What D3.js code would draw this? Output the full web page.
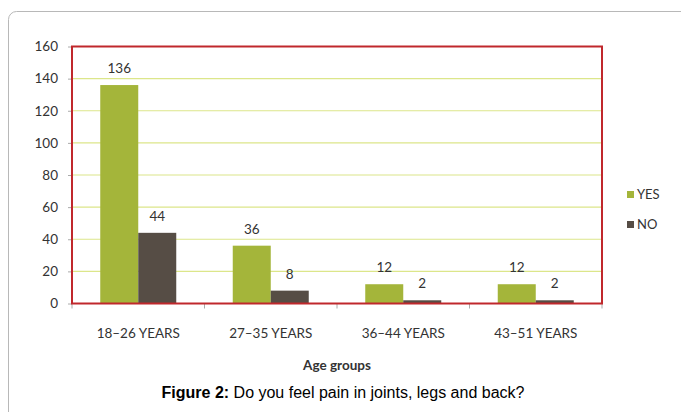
<!DOCTYPE html>
<html>
<head>
  <meta charset="utf-8">
  <title>Figure 2</title>
  <script src="https://d3js.org/d3.v7.min.js"></script>
  <style>
    body { margin: 0; background: #fff; }
    text { font-family: Lato, "Open Sans", sans-serif; fill: #333; }
  </style>
</head>
<body>
  <div id="chart"></div>
  <script>
    // chart data
    var categories = ["18-26 YEARS", "27-35 YEARS", "36-44 YEARS", "43-51 YEARS"];
    var series = ["YES", "NO"];
    var yesValues = [136, 36, 12, 12];
    var noValues = [44, 8, 2, 2];
    var yTicks = [0, 20, 40, 60, 80, 100, 120, 140, 160];
    var colors = ["#a4b53a", "#564d45"];

    var width = 681, height = 412;
    var svg = d3.select("#chart").append("svg")
      .attr("width", width).attr("height", height);

    // outer rounded frame
    svg.append("rect")
      .attr("x", 8.5).attr("y", 11.5)
      .attr("width", 720).attr("height", 430)
      .attr("rx", 8)
      .attr("fill", "none").attr("stroke", "#b8b8b8").attr("stroke-width", 1);

    var plotLeft = 72, plotRight = 602, plotTop = 46.5, plotBottom = 303.5;

    var x = d3.scaleBand().domain(categories).range([plotLeft, plotRight]);
    var xInner = d3.scaleBand().domain(series).range([0, 76]);
    var y = d3.scaleLinear().domain([0, 160]).range([plotBottom, plotTop]);

    // grid lines
    svg.append("g").selectAll("line")
      .data(yTicks.filter(function(d) { return d > 0 && d < 160; }))
      .enter().append("line")
      .attr("x1", plotLeft).attr("x2", plotRight)
      .attr("y1", function(d) { return y(d); })
      .attr("y2", function(d) { return y(d); })
      .attr("stroke", "#dce68a").attr("stroke-width", 1.2);

    // y axis labels + ticks
    var yAxis = d3.axisLeft(y).tickValues(yTicks).tickSize(4).tickPadding(10);
    var gy = svg.append("g").attr("transform", "translate(" + plotLeft + ",0)").call(yAxis);
    gy.select(".domain").remove();
    gy.selectAll("line").attr("stroke", "#aaa");
    gy.selectAll("text").style("font-size", "13.5px").attr("fill", "#333")
      .style("font-family", "Lato, sans-serif");

    // x axis ticks at category boundaries
    var bounds = categories.map(function(c) { return x(c); }).concat([plotRight]);
    svg.append("g").selectAll("line")
      .data(bounds).enter().append("line")
      .attr("x1", function(d) { return d; }).attr("x2", function(d) { return d; })
      .attr("y1", plotBottom).attr("y2", plotBottom + 5)
      .attr("stroke", "#aaa");

    // bars
    var rows = categories.map(function(c, i) {
      return { cat: c, vals: [{ s: "YES", v: yesValues[i] }, { s: "NO", v: noValues[i] }] };
    });

    var groups = svg.append("g").selectAll("g")
      .data(rows).enter().append("g")
      .attr("transform", function(d) {
        return "translate(" + (x(d.cat) + (x.bandwidth() - 76) / 2) + ",0)";
      });

    groups.selectAll("rect")
      .data(function(d) { return d.vals; })
      .enter().append("rect")
      .attr("x", function(d) { return xInner(d.s); })
      .attr("width", xInner.bandwidth())
      .attr("y", function(d) { return y(d.v); })
      .attr("height", function(d) { return plotBottom - y(d.v); })
      .attr("fill", function(d, i) { return colors[i]; });

    groups.selectAll("text")
      .data(function(d) { return d.vals; })
      .enter().append("text")
      .attr("x", function(d) { return xInner(d.s) + xInner.bandwidth() / 2; })
      .attr("y", function(d) { return y(d.v) - 12; })
      .attr("text-anchor", "middle")
      .style("font-size", "13.5px")
      .text(function(d) { return d.v; });

    // plot border (red)
    svg.append("rect")
      .attr("x", plotLeft).attr("y", plotTop)
      .attr("width", plotRight - plotLeft).attr("height", plotBottom - plotTop)
      .attr("fill", "none").attr("stroke", "#c0282c").attr("stroke-width", 2);

    // category labels
    svg.append("g").selectAll("text")
      .data(categories).enter().append("text")
      .attr("x", function(d) { return x(d) + x.bandwidth() / 2; })
      .attr("y", 338)
      .attr("text-anchor", "middle")
      .style("font-size", "13.5px")
      .text(function(d) { return d.replace("-", "\u2013"); });

    svg.append("text")
      .attr("x", 337).attr("y", 370)
      .attr("text-anchor", "middle")
      .style("font-size", "13.5px").style("font-weight", "bold")
      .text("Age groups");

    // legend
    var legend = svg.append("g").selectAll("g")
      .data(series).enter().append("g")
      .attr("transform", function(d, i) { return "translate(627," + (191 + i * 30) + ")"; });
    legend.append("rect").attr("width", 7).attr("height", 7)
      .attr("fill", function(d, i) { return colors[i]; });
    legend.append("text").attr("x", 10).attr("y", 8)
      .style("font-size", "13px").text(function(d) { return d; });

    // caption
    var cap = svg.append("text")
      .attr("x", 343).attr("y", 398)
      .attr("text-anchor", "middle")
      .style("font-family", "'Liberation Sans', Arial, sans-serif")
      .style("font-size", "16px").attr("fill", "#000");
    cap.append("tspan").style("font-weight", "bold").attr("fill", "#000").text("Figure 2:");
    cap.append("tspan").attr("fill", "#000").text(" Do you feel pain in joints, legs and back?");
  </script>
</body>
</html>
